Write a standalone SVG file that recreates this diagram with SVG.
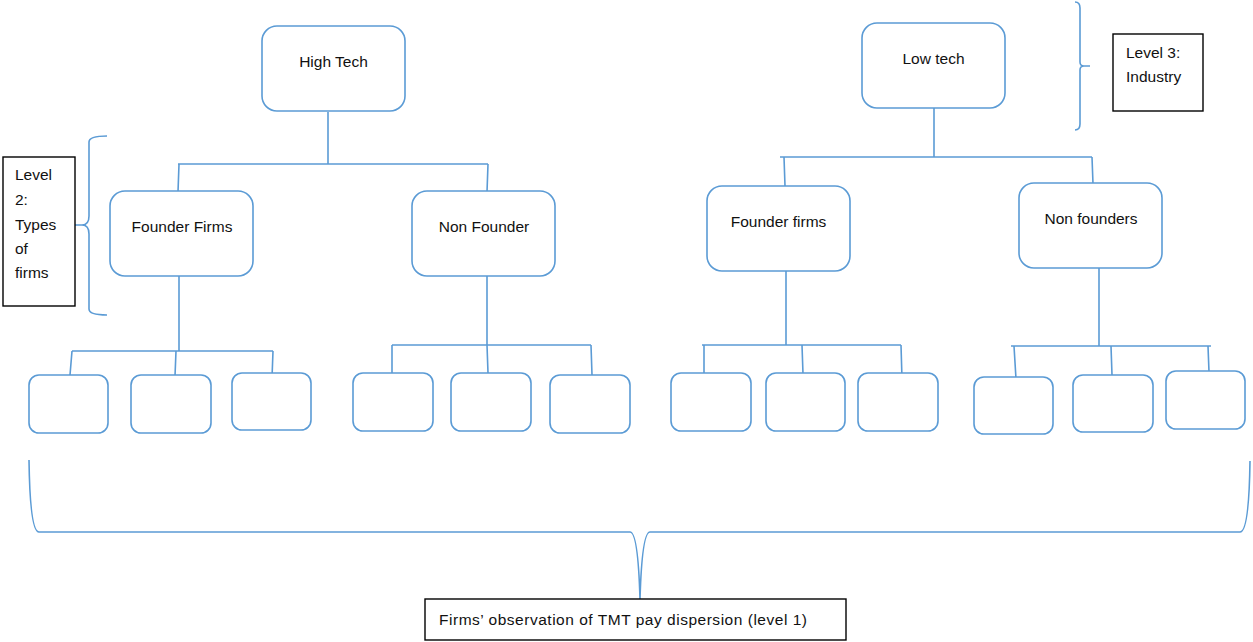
<svg xmlns="http://www.w3.org/2000/svg" width="1253" height="642" viewBox="0 0 1253 642">
<style>
.n{fill:#fff;stroke:#5B9BD5;stroke-width:1.6}
.b{fill:#fff;stroke:#000;stroke-width:1.4}
.c{fill:none;stroke:#5B9BD5;stroke-width:1.6}
text{font-family:"Liberation Sans",Arial,sans-serif;font-size:15.5px;fill:#111}
.m{text-anchor:middle}
</style>
<rect width="1253" height="642" fill="#fff"/>
<g id="connectors">
<path class="c" d="M328,112V164M178,164H488M179,164L178,192M488,164L487,192"/>
<path class="c" d="M934,108V157M780,157H1092M784,157L785,186M1092,157L1093,184"/>
<path class="c" d="M179,276V351M72,351H273M72,351L70,375M176,351L175,376M273,351L272,378"/>
<path class="c" d="M487,276V345M392,345H591M392,345V382M487,345L488,373M591,345L592,375"/>
<path class="c" d="M786,271V345M702,345H901M704,345V374M802,345L803,374M901,345L902,379"/>
<path class="c" d="M1099,268V346M1011,346H1211M1014,346L1016,379M1111,346L1112,375M1208,346L1209,372"/>
<path id="brace-level2" class="c" d="M107,136Q89,136 89,142V216Q89,225 82,225H67M82,225Q89,225 89,234V309Q89,315 107,315"/>
<path id="brace-level3" class="c" d="M1075,2Q1080,2 1080,8V62Q1080,66 1084,66H1090M1084,66Q1080,66 1080,70V124Q1080,130 1075,130"/>
<path id="brace-level1" class="c" d="M29,460Q30,532 39,532H630Q638,532 640,599Q642,532 650,532H1240Q1249,532 1250,461"/>
</g>
<g id="high-tech"><rect class="n" x="262" y="26" width="143" height="85" rx="15"/><text class="m" x="333.5" y="67">High Tech</text></g>
<g id="low-tech"><rect class="n" x="862" y="23" width="143" height="85" rx="15"/><text class="m" x="933.5" y="64">Low tech</text></g>
<g id="ht-founder"><rect class="n" x="110" y="191" width="143" height="85" rx="15"/><text class="m" x="182" y="232">Founder Firms</text></g>
<g id="ht-nonfounder"><rect class="n" x="412" y="191" width="143" height="85" rx="15"/><text class="m" x="484" y="232">Non Founder</text></g>
<g id="lt-founder"><rect class="n" x="707" y="186" width="143" height="85" rx="15"/><text class="m" x="778.5" y="227">Founder firms</text></g>
<g id="lt-nonfounder"><rect class="n" x="1019" y="183" width="143" height="85" rx="15"/><text class="m" x="1091" y="224">Non founders</text></g>
<g id="leaf1"><rect class="n" x="29" y="375" width="79" height="58" rx="10"/></g>
<g id="leaf2"><rect class="n" x="131" y="375" width="80" height="58" rx="10"/></g>
<g id="leaf3"><rect class="n" x="232" y="373" width="79" height="57" rx="10"/></g>
<g id="leaf4"><rect class="n" x="353" y="373" width="80" height="58" rx="10"/></g>
<g id="leaf5"><rect class="n" x="451" y="373" width="80" height="58" rx="10"/></g>
<g id="leaf6"><rect class="n" x="550" y="375" width="80" height="58" rx="10"/></g>
<g id="leaf7"><rect class="n" x="671" y="373" width="80" height="58" rx="10"/></g>
<g id="leaf8"><rect class="n" x="766" y="373" width="79" height="58" rx="10"/></g>
<g id="leaf9"><rect class="n" x="858" y="373" width="80" height="58" rx="10"/></g>
<g id="leaf10"><rect class="n" x="974" y="377" width="79" height="57" rx="10"/></g>
<g id="leaf11"><rect class="n" x="1073" y="375" width="80" height="57" rx="10"/></g>
<g id="leaf12"><rect class="n" x="1166" y="371" width="79" height="58" rx="10"/></g>
<g id="level2-label"><rect class="b" x="3" y="157" width="72" height="149"/>
<text x="15" y="180" font-size="16">Level</text><text x="15" y="205" font-size="16">2:</text><text x="15" y="230" font-size="16">Types</text><text x="15" y="254" font-size="16">of</text><text x="15" y="278" font-size="16">firms</text></g>
<g id="level3-label"><rect class="b" x="1113" y="34" width="90" height="77"/>
<text x="1126" y="58">Level 3:</text><text x="1126" y="82">Industry</text></g>
<g id="level1-label"><rect class="b" x="425" y="599" width="421" height="41"/>
<text x="439" y="625" textLength="368" lengthAdjust="spacing">Firms’ observation of TMT pay dispersion (level 1)</text></g>
</svg>
